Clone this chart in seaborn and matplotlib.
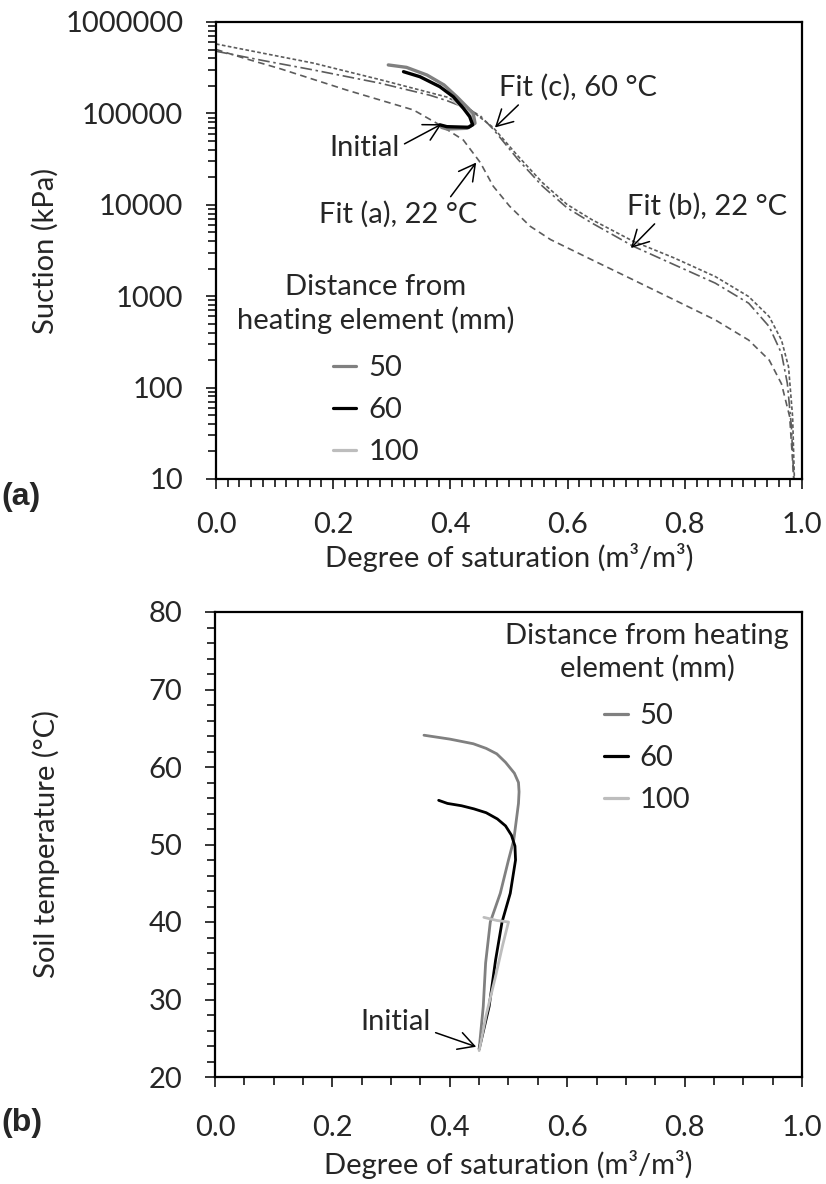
import numpy as np
import pandas as pd
import matplotlib
matplotlib.use("Agg")
import matplotlib.pyplot as plt
from matplotlib.lines import Line2D
from matplotlib.ticker import FixedLocator, MultipleLocator, LogLocator, FuncFormatter, NullFormatter
import seaborn as sns

# ---------------- data ----------------
distances = ["50", "60", "100"]

# (a) measured suction (kPa) against degree of saturation
sr_a_50 = [0.385, 0.394, 0.428, 0.442, 0.439, 0.428, 0.411, 0.389, 0.360, 0.325, 0.294]
suc_a_50 = [70300, 67500, 68700, 78000, 100000, 118000, 152000, 205000, 263000, 319000, 339000]
sr_a_60 = [0.382, 0.394, 0.431, 0.438, 0.433, 0.422, 0.405, 0.382, 0.348, 0.320]
suc_a_60 = [75000, 71600, 70500, 75000, 92000, 114000, 152000, 196000, 252000, 286000]
sr_a_100 = [0.383, 0.400, 0.430, 0.440, 0.435, 0.420, 0.405]
suc_a_100 = [73000, 70000, 69500, 78000, 95000, 118000, 140000]

# (a) fitted retention curves
fit_a_sr = [0.0, 0.05, 0.109, 0.223, 0.337, 0.382, 0.422, 0.451, 0.473, 0.501, 0.536,
            0.571, 0.641, 0.712, 0.782, 0.852, 0.909, 0.944, 0.965, 0.979, 0.986]
fit_a_suc = [501000, 398000, 309000, 180000, 109000, 74600, 51200, 29000, 16000, 9660, 5830,
             4160, 2510, 1510, 912, 550, 331, 200, 110, 47.9, 10]
fit_b_sr = [0.0, 0.079, 0.166, 0.28, 0.365, 0.394, 0.43, 0.451, 0.473, 0.515, 0.557,
            0.599, 0.641, 0.712, 0.782, 0.852, 0.909, 0.944, 0.965, 0.975, 0.982, 0.986]
fit_b_suc = [479000, 380000, 299000, 214000, 158000, 138000, 112000, 94200, 67300, 31500, 16000,
             9270, 6340, 3520, 2210, 1390, 838, 465, 237, 111, 37, 10]
fit_c_sr = [0.0, 0.079, 0.166, 0.28, 0.394, 0.43, 0.444, 0.473, 0.515, 0.557, 0.599,
            0.641, 0.712, 0.782, 0.852, 0.909, 0.944, 0.965, 0.977, 0.984, 0.987]
fit_c_suc = [575000, 457000, 355000, 234000, 151000, 115000, 97700, 70100, 34300, 17500, 10100,
             6900, 3990, 2620, 1640, 991, 598, 331, 169, 47.6, 10]

# (b) soil temperature (degC) against degree of saturation
sr_b_50 = [0.450, 0.457, 0.461, 0.469, 0.486, 0.500, 0.509, 0.517, 0.518, 0.517, 0.510,
           0.495, 0.480, 0.462, 0.440, 0.400, 0.356]
temp_b_50 = [23.6, 29.1, 34.7, 40.0, 43.7, 48.0, 50.6, 55.3, 56.8, 58.0, 59.2,
             60.6, 61.7, 62.4, 63.0, 63.6, 64.1]
sr_b_60 = [0.450, 0.467, 0.478, 0.489, 0.503, 0.512, 0.511, 0.505, 0.495, 0.481, 0.462,
           0.441, 0.420, 0.396, 0.381]
temp_b_60 = [23.6, 29.1, 35.1, 40.0, 43.7, 48.0, 49.8, 51.2, 52.4, 53.3, 54.1,
             54.6, 55.0, 55.3, 55.7]
sr_b_100 = [0.450, 0.462, 0.478, 0.490, 0.500, 0.480, 0.458]
temp_b_100 = [23.4, 28.0, 33.0, 37.0, 40.0, 40.2, 40.6]

suction_ticks = [10, 100, 1000, 10000, 100000, 1000000]
sat_ticks = [0.0, 0.2, 0.4, 0.6, 0.8, 1.0]
temp_ticks = [20, 30, 40, 50, 60, 70, 80]

# ---------------- style ----------------
sns.set_style("white")
plt.rcParams["font.family"] = ["Lato", "DejaVu Sans"]
FS = 21
palette = {"50": "#808080", "60": "#000000", "100": "#bdbdbd"}
fit_color = "#5c5c5c"
xlabel = "Degree of saturation (m\u00b3/m\u00b3)"

fig = plt.figure(figsize=(8.26, 11.84), dpi=100)
ax1 = fig.add_axes([216 / 826, 1 - 479 / 1184, 586 / 826, 457 / 1184])
ax2 = fig.add_axes([215 / 826, 1 - 1077 / 1184, 587 / 826, 465 / 1184])


def frame(ax, xpad):
    for s in ax.spines.values():
        s.set_visible(True)
        s.set_color("black")
        s.set_linewidth(1.6)
    ax.tick_params(which="both", direction="out", color="black", width=1.1,
                   labelsize=FS, pad=16, bottom=True, left=True, top=False, right=False)
    ax.tick_params(axis="x", which="both", pad=xpad)
    ax.tick_params(which="major", length=7.5)
    ax.tick_params(which="minor", length=5.5)
    ax.xaxis.set_major_locator(FixedLocator(sat_ticks))
    ax.xaxis.set_major_formatter(FuncFormatter(lambda v, p: f"{v:.1f}"))
    ax.set_xlim(0, 1)
    ax.set_xlabel(xlabel, fontsize=FS)
    ax.xaxis.label.set_va("center")


def data_frame(sr_lists, y_lists, yname):
    rows = []
    for d, xs, ys in zip(distances, sr_lists, y_lists):
        for x, y in zip(xs, ys):
            rows.append({"sr": x, yname: y, "distance": d})
    return pd.DataFrame(rows)


def distance_legend(ax, title, anchor):
    handles = [Line2D([], [], color=palette[d], lw=2.3) for d in distances]
    leg = ax.legend(handles, distances, title=title, loc="upper center",
                    bbox_to_anchor=anchor, frameon=False, fontsize=FS, title_fontsize=FS,
                    handlelength=0.8, handletextpad=0.4, labelspacing=0.55, borderpad=0.1)
    leg.get_title().set_multialignment("center")
    leg.get_title().set_linespacing(1.3)
    # a little more room between the title and the first entry
    try:
        leg._legend_box.sep += 3.5
    except AttributeError:
        pass
    return leg


# ---------------- panel (a) ----------------
df_a = data_frame([sr_a_50, sr_a_60, sr_a_100], [suc_a_50, suc_a_60, suc_a_100], "suction")
fits = [(fit_a_sr, fit_a_suc, (0, (4, 2.6))),
        (fit_b_sr, fit_b_suc, (0, (7, 2.2, 1.5, 2.2))),
        (fit_c_sr, fit_c_suc, (0, (2.2, 1.4)))]
for fx, fy, ls in fits:
    sns.lineplot(x=fx, y=fy, sort=False, estimator=None, color=fit_color,
                 linewidth=1.2, linestyle=ls, ax=ax1)
sns.lineplot(data=df_a, x="sr", y="suction", hue="distance", hue_order=["100", "50", "60"],
             palette=palette, sort=False, estimator=None, linewidth=2.4, legend=False, ax=ax1)

ax1.set_yscale("log")
ax1.set_ylim(10, 1000000)
frame(ax1, 16)
ax1.yaxis.set_major_locator(FixedLocator(suction_ticks))
ax1.yaxis.set_major_formatter(FuncFormatter(lambda v, p: f"{int(round(v))}"))
ax1.yaxis.set_minor_locator(LogLocator(base=10, subs=np.arange(2, 10), numticks=20))
ax1.yaxis.set_minor_formatter(NullFormatter())
ax1.xaxis.set_minor_locator(MultipleLocator(0.02))
ax1.set_ylabel("Suction (kPa)", fontsize=FS, va="center")
ax1.yaxis.set_label_coords(-0.292, 0.5)
ax1.xaxis.set_label_coords(0.5, -0.171)

arrow = dict(arrowstyle="->,head_length=0.55,head_width=0.3", color="black", lw=1.1,
             shrinkA=1, shrinkB=0)
ax1.annotate("Fit (c), 60 \u00b0C", xy=(0.476, 70100), xytext=(0.483, 193000),
             ha="left", va="center", fontsize=FS, arrowprops=dict(arrow, relpos=(0.15, 0.0)))
ax1.annotate("Initial", xy=(0.385, 76400), xytext=(0.314, 42300),
             ha="right", va="center", fontsize=FS, arrowprops=dict(arrow, relpos=(1.0, 0.55)))
ax1.annotate("Fit (a), 22 \u00b0C", xy=(0.444, 29000), xytext=(0.311, 7830),
             ha="center", va="center", fontsize=FS, arrowprops=dict(arrow, relpos=(0.81, 1.0)))
ax1.annotate("Fit (b), 22 \u00b0C", xy=(0.708, 3365), xytext=(0.701, 9660),
             ha="left", va="center", fontsize=FS, arrowprops=dict(arrow, relpos=(0.2, 0.0)))

distance_legend(ax1, "Distance from\nheating element (mm)", (0.273, 0.487))

# ---------------- panel (b) ----------------
df_b = data_frame([sr_b_50, sr_b_60, sr_b_100], [temp_b_50, temp_b_60, temp_b_100], "temp")
sns.lineplot(data=df_b, x="sr", y="temp", hue="distance", hue_order=["50", "60", "100"],
             palette=palette, sort=False, estimator=None, linewidth=2.0, legend=False, ax=ax2)
ax2.set_ylim(20, 80)
frame(ax2, 20)
ax2.yaxis.set_major_locator(FixedLocator(temp_ticks))
ax2.yaxis.set_minor_locator(MultipleLocator(2))
ax2.xaxis.set_minor_locator(MultipleLocator(0.05))
ax2.set_ylabel("Soil temperature (\u00b0C)", fontsize=FS, va="center")
ax2.yaxis.set_label_coords(-0.288, 0.5)
ax2.xaxis.set_label_coords(0.5, -0.189)

ax2.annotate("Initial", xy=(0.445, 23.9), xytext=(0.368, 27.1),
             ha="right", va="center", fontsize=FS, arrowprops=dict(arrow, relpos=(1.0, 0.15)))

distance_legend(ax2, "Distance from heating\nelement (mm)", (0.736, 1.015))

label_font = dict(fontsize=FS + 2, fontweight="bold", va="center",
                  family=["Liberation Sans", "DejaVu Sans"])
fig.text(0.002, 1 - 497 / 1184, "(a)", **label_font)
fig.text(0.002, 1 - 1123 / 1184, "(b)", **label_font)

fig.savefig("out.png", dpi=100, facecolor="white")
